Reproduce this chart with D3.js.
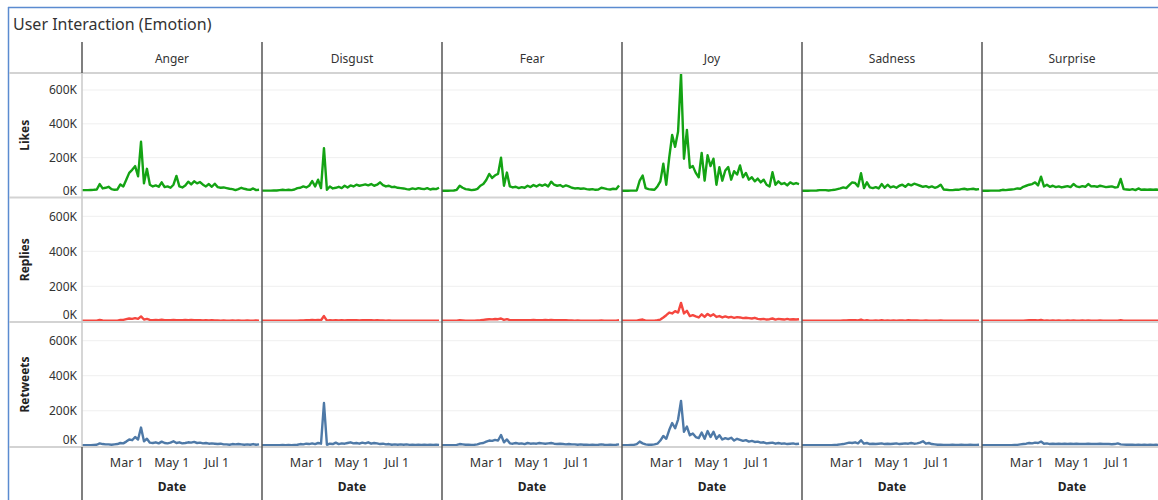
<!DOCTYPE html>
<html><head><meta charset="utf-8">
<script src="https://cdn.jsdelivr.net/npm/d3@7"></script>
<style>
html,body{margin:0;padding:0;background:#fff;}
svg{display:block;font-family:"Noto Sans",sans-serif;}
</style></head>
<body><svg id="chart" width="1158" height="500"></svg>
<script>
// ---------- data (values in thousands, one point every 4 days from 2020-01-01) ----------
const emotions = ["Anger","Disgust","Fear","Joy","Sadness","Surprise"];
const measures = ["Likes","Replies","Retweets"];
const yTicks = [0, 200, 400, 600];
const yTickLabels = ["0K","200K","400K","600K"];
const xTickLabels = ["Mar 1","May 1","Jul 1"];
const xTickDates = ["2020-03-01","2020-05-01","2020-07-01"];
const startDate = "2020-01-01";
const stepDays = 4;

const likesAnger = [8,8,8,9,10,12,44,18,22,28,14,10,12,42,30,70,110,128,150,90,294,48,134,40,30,36,28,54,26,30,22,40,92,30,24,36,58,42,60,48,56,40,30,44,28,46,26,22,24,20,16,14,8,14,22,16,12,10,18,8,10];
const likesDisgust = [5,5,5,5,6,6,8,10,8,10,8,12,20,22,30,24,34,62,30,70,20,256,10,30,18,22,28,20,34,24,36,30,40,34,38,42,36,44,34,40,54,38,30,34,26,28,22,20,18,14,12,18,14,20,16,14,20,12,16,14,22];
const likesFear = [4,4,4,5,6,10,34,22,14,12,8,10,16,34,44,68,104,80,96,104,200,34,112,30,24,28,20,26,22,34,26,38,30,40,34,42,30,58,40,34,38,28,36,30,22,18,20,16,18,14,12,14,10,12,22,18,14,12,16,14,36];
const likesJoy = [4,4,4,5,5,6,64,94,20,14,12,10,30,60,164,40,200,334,264,354,694,194,364,140,150,110,84,228,64,214,150,194,40,144,64,124,144,70,120,100,154,84,110,70,84,60,76,54,70,40,30,114,40,60,44,50,36,54,44,50,44];
const likesSadness = [4,4,4,5,5,6,8,8,8,6,8,10,14,18,24,20,38,54,50,30,108,20,54,24,20,26,18,44,22,40,24,30,22,34,40,28,44,36,46,40,34,28,32,24,30,22,28,40,12,10,8,8,10,10,14,16,12,14,16,12,14];
const likesSurprise = [4,4,4,5,5,5,6,10,8,10,12,14,18,16,28,34,40,44,54,36,88,30,40,28,34,26,30,24,28,32,26,44,30,26,32,28,44,30,32,28,34,30,26,28,30,24,26,74,14,12,10,14,8,18,10,12,10,12,10,12,10];

const repliesAnger = [3,3,3,3,3,3,8,5,4,4,4,4,4,8,8,12,16,14,18,14,28,10,14,8,7,8,6,9,6,7,6,8,6,7,6,8,7,8,6,7,6,5,6,5,6,5,5,4,5,4,4,5,4,5,4,4,5,4,4,5,4];
const repliesDisgust = [3,3,3,3,3,3,3,4,3,4,3,4,4,5,5,6,6,8,6,8,6,30,4,6,5,6,5,6,5,6,7,6,6,5,6,6,7,6,5,6,5,5,4,5,4,4,4,4,4,4,3,4,3,4,3,4,3,4,3,4,3];
const repliesFear = [3,3,3,3,3,3,6,5,4,4,4,4,5,6,8,10,12,11,13,12,16,8,12,7,6,7,6,7,6,7,6,8,6,7,7,8,6,8,7,6,7,6,6,5,5,4,5,4,4,4,4,4,3,4,5,4,4,4,4,4,6];
const repliesJoy = [3,3,3,3,3,4,8,10,4,4,4,4,6,10,22,35,50,45,58,50,105,45,60,30,35,28,22,40,25,42,30,40,25,30,22,28,22,25,20,24,22,18,20,18,16,20,14,12,14,10,12,16,10,14,12,10,14,10,12,10,12];
const repliesSadness = [3,3,3,3,3,3,3,3,3,3,3,3,4,4,5,5,6,7,6,5,10,4,6,4,4,5,4,6,4,5,4,5,4,5,5,4,6,5,5,5,4,4,5,4,4,4,4,5,3,3,3,3,3,3,3,4,3,3,3,3,3];
const repliesSurprise = [3,3,3,3,3,3,3,3,3,3,3,3,4,4,4,5,6,6,7,5,8,4,5,4,5,4,5,4,4,5,4,5,4,4,5,4,5,4,4,4,5,4,4,4,4,4,4,6,3,3,3,3,3,3,3,3,3,3,3,3,3];

const retweetsAnger = [3,3,4,4,5,6,14,10,8,8,6,8,10,16,14,24,36,32,50,36,104,26,40,18,16,20,14,24,16,14,18,26,16,20,14,16,20,18,22,16,18,14,16,12,14,12,10,12,8,8,6,10,8,10,8,6,8,6,10,6,8];
const retweetsDisgust = [3,3,3,3,4,4,4,5,4,5,4,5,6,10,8,12,10,14,10,16,12,244,6,12,10,18,10,14,12,16,20,14,16,12,18,14,20,12,16,14,10,12,8,10,6,8,6,8,6,8,5,6,5,6,5,6,5,6,5,6,5];
const retweetsFear = [3,3,3,4,4,5,10,8,6,6,5,6,8,14,16,24,30,28,34,30,62,20,36,14,12,16,12,14,10,16,12,14,12,16,14,12,14,16,12,10,12,10,8,10,8,8,6,8,6,6,5,6,5,6,8,6,5,6,5,6,8];
const retweetsJoy = [4,4,4,5,5,10,24,14,8,6,6,8,12,30,56,40,90,130,100,150,256,80,110,60,70,50,44,76,40,84,50,80,40,60,36,44,38,46,30,40,34,28,32,24,28,22,24,18,20,14,16,18,12,16,12,14,10,12,14,10,12];
const retweetsSadness = [3,3,3,3,3,4,4,4,4,4,4,5,6,8,10,14,18,16,20,14,32,12,16,10,12,10,12,14,10,12,10,12,14,10,12,14,12,16,12,14,18,26,12,16,10,8,6,6,5,5,5,6,5,5,6,5,5,6,5,5,6];
const retweetsSurprise = [3,3,3,3,3,3,4,4,4,4,4,5,5,8,10,12,16,14,18,16,24,12,14,10,12,10,12,10,12,10,12,10,12,10,11,10,12,10,11,10,12,10,11,10,9,10,14,8,7,6,6,6,5,6,5,6,5,6,5,6,5];

const seriesTable = {
  Likes:    [likesAnger, likesDisgust, likesFear, likesJoy, likesSadness, likesSurprise],
  Replies:  [repliesAnger, repliesDisgust, repliesFear, repliesJoy, repliesSadness, repliesSurprise],
  Retweets: [retweetsAnger, retweetsDisgust, retweetsFear, retweetsJoy, retweetsSadness, retweetsSurprise]
};
const colors = {Likes:"#14a314", Replies:"#f5473f", Retweets:"#4e79a7"};

// ---------- layout ----------
const W = 1158, H = 500;
const left0 = 82, colW = 180;
const rows = [ {top:73, bottom:197.5, zero:191.5, y600:90},
               {top:197.5, bottom:322, zero:321.3, y600:216.3},
               {top:322, bottom:447, zero:445.8, y600:340.7} ];
const svg = d3.select("#chart");
const start = d3.utcParse("%Y-%m-%d")(startDate);
const dates = likesAnger.map((_, i) => d3.utcDay.offset(start, i * stepDays));
const x = d3.scaleUtc().domain([start, new Date(Date.UTC(2020,8,1))]).range([0, colW]);

// outer frame
svg.append("line").attr("x1",8.5).attr("x2",8.5).attr("y1",7).attr("y2",H).attr("stroke","#5b8bd0").attr("stroke-width",1.5);
svg.append("line").attr("x1",8).attr("x2",W).attr("y1",7.5).attr("y2",7.5).attr("stroke","#5b8bd0").attr("stroke-width",1.5);

svg.append("text").attr("x",13).attr("y",30).attr("font-size",16).attr("fill","#333").text("User Interaction (Emotion)");

// header labels
emotions.forEach((e, c) => {
  svg.append("text").attr("x", left0 + c*colW + colW/2).attr("y", 63).attr("text-anchor","middle")
    .attr("font-size",12).attr("fill","#333").text(e);
});

// rows
measures.forEach((m, r) => {
  const R = rows[r];
  const y = d3.scaleLinear().domain([0, 600]).range([R.zero, R.y600]);
  yTicks.forEach(t => {
    if (t === 0) return;
    svg.append("line").attr("x1", left0).attr("x2", W).attr("y1", y(t)).attr("y2", y(t))
      .attr("stroke","#efefef").attr("stroke-width",1);
  });
  yTicks.forEach((t, i) => {
    const ty = t === 0 ? Math.min(y(t), R.bottom - 7) : y(t);
    svg.append("text").attr("x", 77).attr("y", ty).attr("dy","0.35em").attr("text-anchor","end")
      .attr("font-size",12).attr("fill","#333").text(yTickLabels[i]);
  });
  svg.append("text").attr("transform", `translate(29,${(R.top+R.bottom)/2}) rotate(-90)`)
    .attr("text-anchor","middle").attr("font-size",12).attr("font-weight","bold").attr("fill","#222").text(m);
  emotions.forEach((e, c) => {
    const vals = seriesTable[m][c];
    const g = svg.append("g").attr("transform", `translate(${left0 + c*colW},0)`);
    const line = d3.line().x((d,i) => x(dates[i])).y(d => y(d)).curve(d3.curveLinear);
    g.append("path").datum(vals).attr("d", line).attr("fill","none")
      .attr("stroke", colors[m]).attr("stroke-width", 2.4).attr("stroke-linejoin","round");
  });
});

// row separators
[73, 197.5, 322, 447].forEach(yy => {
  svg.append("line").attr("x1", 9).attr("x2", W).attr("y1", yy).attr("y2", yy).attr("stroke","#d3d3d3").attr("stroke-width",2);
});

// column separators
emotions.forEach((e, c) => {
  const xx = left0 + c*colW;
  if (c === 0) {
    svg.append("line").attr("x1",xx).attr("x2",xx).attr("y1",42).attr("y2",73).attr("stroke","#555").attr("stroke-width",1.5);
    svg.append("line").attr("x1",xx).attr("x2",xx).attr("y1",73).attr("y2",447).attr("stroke","#c8c8c8").attr("stroke-width",1.5);
    svg.append("line").attr("x1",xx).attr("x2",xx).attr("y1",447).attr("y2",H).attr("stroke","#555").attr("stroke-width",1.5);
  } else {
    svg.append("line").attr("x1",xx).attr("x2",xx).attr("y1",42).attr("y2",H).attr("stroke","#555").attr("stroke-width",1.5);
  }
});

// bottom axes
const tickDates = xTickDates.map(d3.utcParse("%Y-%m-%d"));
emotions.forEach((e, c) => {
  const g = svg.append("g").attr("transform", `translate(${left0 + c*colW},447)`);
  const ax = d3.axisBottom(x).tickValues(tickDates).tickSize(0).tickPadding(0)
    .tickFormat((d,i) => xTickLabels[i]);
  g.call(ax);
  g.select(".domain").remove();
  g.selectAll("text").attr("y", 16).attr("dy","0.35em").attr("font-size",12.5).attr("fill","#333")
    .attr("font-family","Noto Sans, sans-serif");
  svg.append("text").attr("x", left0 + c*colW + colW/2).attr("y", 491).attr("text-anchor","middle")
    .attr("font-size",12).attr("font-weight","bold").attr("fill","#222").text("Date");
});
</script></body></html>
